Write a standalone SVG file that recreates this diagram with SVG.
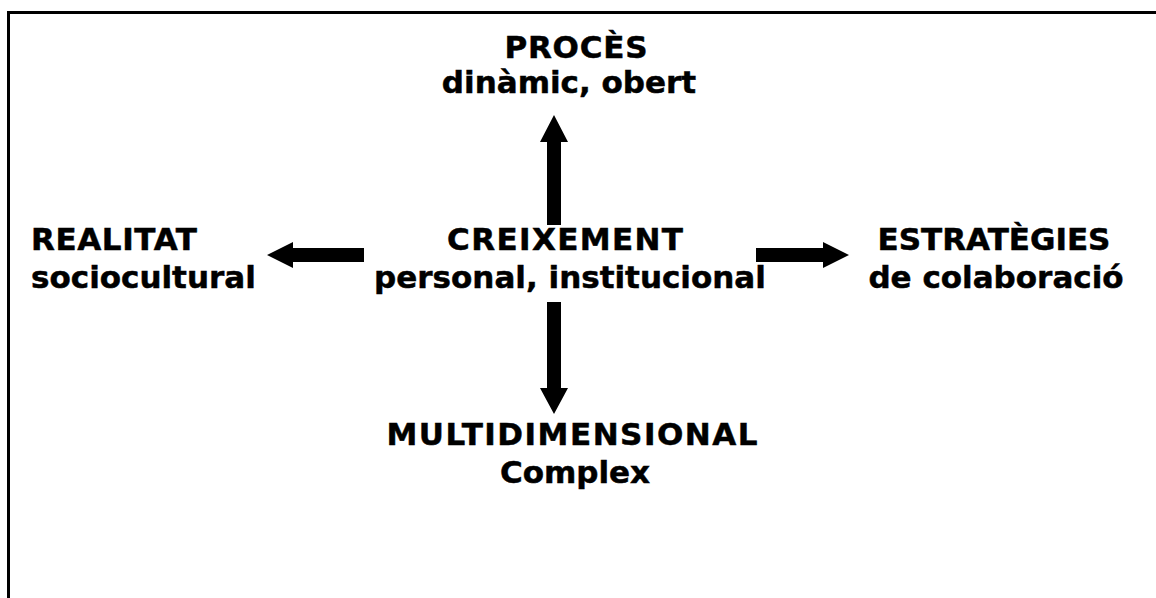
<svg xmlns="http://www.w3.org/2000/svg" width="1156" height="598" viewBox="0 0 1156 598">
<style>
.t{font-family:"DejaVu Sans","Verdana",sans-serif;font-weight:bold;font-size:31px;fill:#000;stroke:#000;stroke-width:0.5}
.m{text-anchor:middle}
.arr{fill:#000}
</style>
<rect x="0" y="0" width="1156" height="598" fill="#fff"/>
<path d="M8.5 598 V12.5 H1156" fill="none" stroke="#000" stroke-width="3"/>
<g id="connectors">
<polygon class="arr" points="547,225 547,142 540,142 554,115 568,142 561,142 561,225"/>
<polygon class="arr" points="547,302 561,302 561,388 568,388 554,414 540,388 547,388"/>
<polygon class="arr" points="364,248 293,248 293,242 267,255 293,268 293,262 364,262"/>
<polygon class="arr" points="756,248 823,248 823,242 849,255 823,268 823,262 756,262"/>
</g>
<g id="proces">
<text class="t m" x="576" y="58" textLength="143" lengthAdjust="spacing">PROCÈS</text>
<text class="t m" x="569" y="93">dinàmic, obert</text>
</g>
<g id="realitat">
<text class="t" x="31" y="250" textLength="166" lengthAdjust="spacing">REALITAT</text>
<text class="t" x="31" y="288">sociocultural</text>
</g>
<g id="creixement">
<text class="t m" x="565" y="250" textLength="236" lengthAdjust="spacing">CREIXEMENT</text>
<text class="t m" x="570" y="288">personal, institucional</text>
</g>
<g id="estrategies">
<text class="t m" x="994" y="250">ESTRATÈGIES</text>
<text class="t m" x="996" y="288">de colaboració</text>
</g>
<g id="multidimensional">
<text class="t m" x="572" y="445" textLength="371" lengthAdjust="spacing">MULTIDIMENSIONAL</text>
<text class="t m" x="575" y="483">Complex</text>
</g>
</svg>
